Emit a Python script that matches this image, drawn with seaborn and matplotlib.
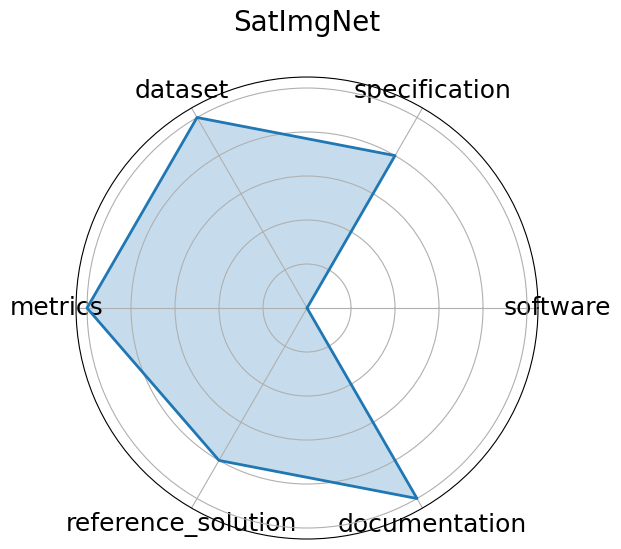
import numpy as np
import matplotlib
matplotlib.use("Agg")
import matplotlib.pyplot as plt
import seaborn as sns

categories = ["software", "specification", "dataset", "metrics", "reference_solution", "documentation"]
values = [0.0, 0.8, 1.0, 1.0, 0.8, 1.0]
title = "SatImgNet"

sns.set_style("white")
plt.rcParams['font.family'] = ['DejaVu Sans']
plt.rcParams['text.color'] = 'black'
plt.rcParams['xtick.color'] = 'black'
plt.rcParams['ytick.color'] = 'black'
plt.rcParams['axes.labelcolor'] = 'black'
plt.rcParams['axes.axisbelow'] = 'line'

n = len(categories)
angles = np.linspace(0, 2 * np.pi, n, endpoint=False)
ang_closed = np.concatenate([angles, angles[:1]])
val_closed = np.concatenate([values, values[:1]])

fig = plt.figure(figsize=(6.21, 5.49), dpi=100)
ax = fig.add_axes([0.1224, 0.0182, 0.7440, 0.8415], projection="polar")
color = sns.color_palette("tab10")[0]
sns.lineplot(x=ang_closed, y=val_closed, ax=ax, color=color, linewidth=2, sort=False, estimator=None)
ax.fill(ang_closed, val_closed, color=color, alpha=0.25)
ax.set_xticks(angles)
ax.set_xticklabels(categories, fontsize=18, color='black')
ax.set_ylim(0, 1.05)
ax.set_yticks([0.2, 0.4, 0.6, 0.8, 1.0])
ax.set_yticklabels([])
ax.set_axisbelow('line')
ax.grid(True, color="#b0b0b0", linewidth=0.8)
ax.spines['polar'].set_color('black')
ax.set_xlabel("")
ax.set_ylabel("")
ax.set_title(title, fontsize=20, pad=33, color='black')
fig.savefig("out.png", dpi=100)
